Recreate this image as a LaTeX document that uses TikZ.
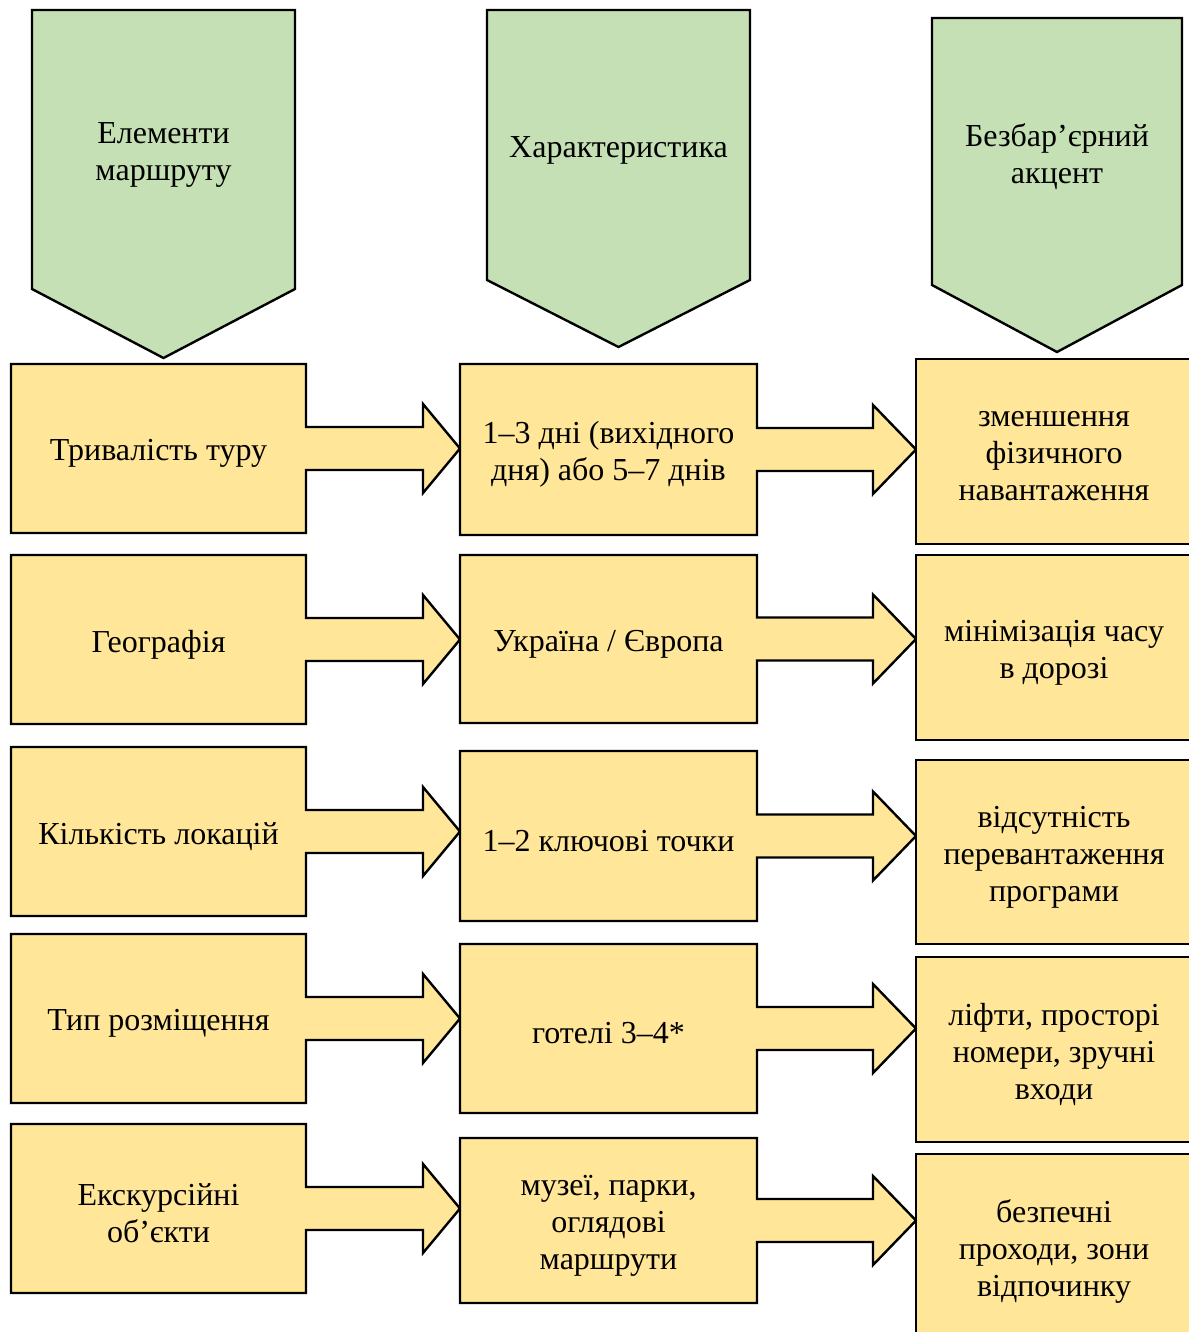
\documentclass[tikz,border=0pt]{standalone}
\usepackage{fontspec}
\setmainfont{Liberation Serif}
\usetikzlibrary{calc,backgrounds}
\definecolor{boxyellow}{HTML}{FFE699}
\definecolor{headgreen}{HTML}{C5E0B4}
% \boxnode{name}{x1}{y1}{x2}{y2}{style}{text}
\newcommand{\boxnode}[7]{%
  \node[shapebox,#6,minimum width={(#4-#2)*0.75pt},minimum height={(#5-#3)*0.75pt}]
    (#1) at ({(#2+#4)/2},{(#3+#5)/2}) {};
  \node[txt] (#1t) at ($(#1.center)+(0,5)$) {#7};}
\newcommand{\blockarrow}[3]{%
  \draw[ybox] (#1.north west) -- (#1.north east) -- ($(#1.east)+(0,-21.5)$)
    -- ($(#1.east -| #2.west)+(-#3,-21.5)$) -- ($(#1.east -| #2.west)+(-#3,-44.5)$)
    -- (#1.east -| #2.west)
    -- ($(#1.east -| #2.west)+(-#3,44.5)$) -- ($(#1.east -| #2.west)+(-#3,21.5)$)
    -- ($(#1.east)+(0,21.5)$) -- (#1.south east) -- (#1.south west) -- cycle;}
\newcommand{\chevron}[2]{%
  \draw[gbox] (#1.north west) -- (#1.north east) -- (#1.south east) -- (#2) -- (#1.south west) -- cycle;}
\begin{document}
\begin{tikzpicture}[x=0.75pt,y=-0.75pt,
  shapebox/.style={rectangle, inner sep=0pt, outer sep=0pt},
  txt/.style={inner sep=0pt, outer sep=0pt, align=center, font=\fontsize{24}{27.75}\selectfont},
  line/.style={draw=black, line width=1.8pt, line join=miter, miter limit=10},
  ybox/.style={line, fill=boxyellow},
  gbox/.style={line, fill=headgreen}]
\useasboundingbox (0,0) rectangle (1189,1332);
\clip (0,0) rectangle (1189,1332);

% headers
\boxnode{h1}{32}{10}{295}{289}{}{Елементи\\маршруту}
\boxnode{h2}{487}{10}{750}{280}{}{Характеристика}
\boxnode{h3}{932}{18}{1182}{285}{}{Безбар’єрний\\акцент}
\coordinate (t1) at (163.5,358);
\coordinate (t2) at (618.5,347);
\coordinate (t3) at (1057,352);

% column 1
\boxnode{a1}{11}{364}{306}{533}{}{Тривалість туру}
\boxnode{a2}{11}{555}{306}{724}{}{Географія}
\boxnode{a3}{11}{747}{306}{916}{}{Кількість локацій}
\boxnode{a4}{11}{934}{306}{1103}{}{Тип розміщення}
\boxnode{a5}{11}{1124}{306}{1293}{}{Екскурсійні\\об’єкти}

% column 2
\boxnode{b1}{460}{364}{757}{535}{}{1–3 дні (вихідного\\дня) або 5–7 днів}
\boxnode{b2}{460}{555}{757}{723}{}{Україна / Європа}
\boxnode{b3}{460}{751}{757}{921}{}{1–2 ключові точки}
\boxnode{b4}{460}{944}{757}{1113}{}{готелі 3–4*}
\boxnode{b5}{460}{1138}{757}{1303}{}{музеї, парки,\\оглядові\\маршрути}

\begin{scope}[on background layer]
  \chevron{h1}{t1}
  \chevron{h2}{t2}
  \chevron{h3}{t3}
  \blockarrow{a1}{b1}{37}
  \blockarrow{a2}{b2}{37}
  \blockarrow{a3}{b3}{37}
  \blockarrow{a4}{b4}{37}
  \blockarrow{a5}{b5}{37}
\end{scope}

% column 3
\boxnode{c1}{916}{359}{1192}{544}{ybox}{зменшення\\фізичного\\навантаження}
\boxnode{c2}{916}{555}{1192}{740}{ybox}{мінімізація часу\\в дорозі}
\boxnode{c3}{916}{760}{1192}{944}{ybox}{відсутність\\перевантаження\\програми}
\boxnode{c4}{916}{957}{1192}{1142}{ybox}{ліфти, просторі\\номери, зручні\\входи}
\boxnode{c5}{916}{1154}{1192}{1339}{ybox}{безпечні\\проходи, зони\\відпочинку}

\begin{scope}[on background layer]
  \blockarrow{b1}{c1}{43}
  \blockarrow{b2}{c2}{43}
  \blockarrow{b3}{c3}{43}
  \blockarrow{b4}{c4}{43}
  \blockarrow{b5}{c5}{43}
\end{scope}
\end{tikzpicture}
\end{document}
